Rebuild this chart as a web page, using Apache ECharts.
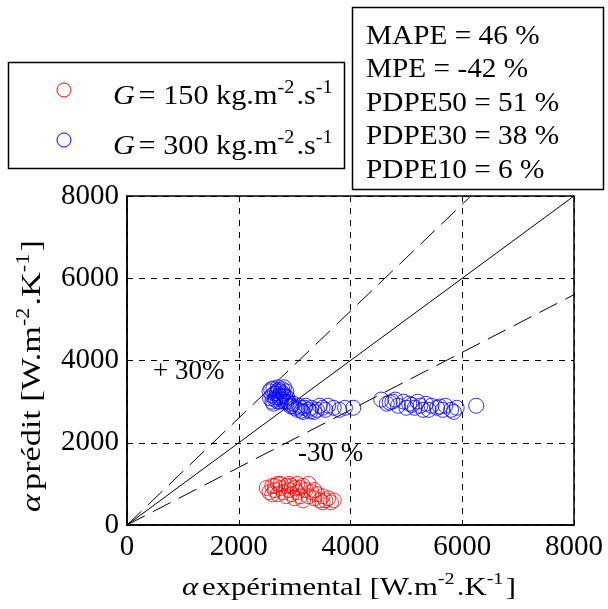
<!DOCTYPE html>
<html><head><meta charset="utf-8">
<script src="https://cdn.jsdelivr.net/npm/echarts@6/dist/echarts.min.js"></script>
<style>html,body{margin:0;padding:0;background:#fff}#c{width:608px;height:609px}</style>
</head><body><div id="c"></div>
<script>
// G = 300 kg.m-2.s-1 (blue) : [alpha experimental, alpha predicted]
const blueX = [2550,2600,2620,2650,2680,2700,2720,2750,2780,2800,2820,2850,2870,2900,2600,2700,2950,3000,3050,3100,3150,3200,3250,3300,3350,3400,3450,3500,3550,3600,3700,3800,3900,4050,
  2580,2640,2660,2710,2730,2760,2790,2810,2840,2560,2690,2740,2880,2620,2770,2930,2980,3080,3120,3180,3280,
  4550,4650,4750,4850,4950,5050,5150,5200,5250,5350,5400,5450,5550,5650,5700,5800,5850,5900,6250,5000,4800,5300,4700,5100,5600];
const blueY = [3250,3150,3320,3050,3200,3350,3100,3250,3300,3150,3000,3250,3100,2950,3000,3000,2900,2850,2800,2850,2750,2900,2800,2850,2750,2800,2900,2850,2800,2900,2850,2800,2850,2850,
  3300,3200,3100,3280,3150,3050,3200,3350,3120,3080,3250,3000,3000,2950,3120,2880,2950,2900,2780,2850,2760,
  3050,2950,3000,2900,3000,2950,2850,3000,2900,2950,2800,2900,2850,2800,2900,2800,2750,2850,2900,2850,3050,2800,2980,2920,2880];
// G = 150 kg.m-2.s-1 (red)
const redX = [2500,2550,2600,2650,2700,2700,2750,2800,2850,2850,2900,2950,3000,3000,3050,3100,3150,3150,3200,3250,3300,3350,3400,3450,3500,3550,3600,3650,3700,2600,2900,3250,3500,2750,2950,3100,3350,2650,3050];
const redY = [900,800,950,850,750,1000,900,800,950,700,850,750,900,650,800,700,950,600,850,700,800,650,750,600,700,600,650,550,600,750,1000,1000,550,1000,950,900,850,950,1000];
// reference lines: y = x, +30 %, -30 %
const lineX = [0, 8000];
const lineY = [0, 8000];
const plus30X = [0, 6154];
const plus30Y = [0, 8000];
const minus30X = [0, 8000];
const minus30Y = [0, 5600];
const ticks = [0, 2000, 4000, 6000, 8000];
const stats = ['MAPE = 46 %', 'MPE = -42 %', 'PDPE50 = 51 %', 'PDPE30 = 38 %', 'PDPE10 = 6 %'];
const seriesNames = ['150', '300'];

const zip = (a, b) => a.map((v, i) => [v, b[i]]);
const FONT = 'Liberation Serif';
const mkRich = (fs) => ({
  n: {fontFamily: FONT, fontSize: fs, color: '#000'},
  i: {fontFamily: FONT, fontSize: fs, fontStyle: 'italic', color: '#000'},
  s: {fontFamily: FONT, fontSize: Math.round(fs * 0.66), color: '#000', padding: [0, 2, Math.round(fs * 0.62), 0]}
});
const chart = echarts.init(document.getElementById('c'), null, {renderer: 'canvas'});
const gridLine = {show: true, lineStyle: {color: '#000', type: [6, 6], width: 1}};
const axisCommon = {
  type: 'value', min: ticks[0], max: ticks[ticks.length - 1], interval: 2000,
  axisLine: {show: true, lineStyle: {color: '#000', width: 1.5}},
  axisTick: {show: true, inside: true, length: 5, lineStyle: {color: '#000'}},
  axisLabel: {fontFamily: FONT, fontSize: 29, color: '#000', margin: 8, formatter: (v) => String(v)},
  splitLine: gridLine
};
chart.setOption({
  animation: false,
  backgroundColor: '#fff',
  grid: {left: 127, right: 34, top: 196, bottom: 84, show: true, borderColor: '#000', borderWidth: 1.5, backgroundColor: 'transparent'},
  xAxis: axisCommon,
  yAxis: axisCommon,
  series: [
    {type: 'line', data: zip(lineX, lineY), symbol: 'none', lineStyle: {color: '#000', width: 1}, silent: true, z: 1},
    {type: 'line', data: zip(plus30X, plus30Y), symbol: 'none', lineStyle: {color: '#000', width: 1, type: [20, 9]}, silent: true, z: 1},
    {type: 'line', data: zip(minus30X, minus30Y), symbol: 'none', lineStyle: {color: '#000', width: 1, type: [20, 9]}, silent: true, z: 1},
    {name: seriesNames[1], type: 'scatter', data: zip(blueX, blueY), symbol: 'circle', symbolSize: 15,
      itemStyle: {color: 'transparent', borderColor: '#0000ff', borderWidth: 1}, z: 3},
    {name: seriesNames[0], type: 'scatter', data: zip(redX, redY), symbol: 'circle', symbolSize: 15,
      itemStyle: {color: 'transparent', borderColor: '#ff0000', borderWidth: 1}, z: 3}
  ],
  graphic: [
    // axis titles
    {type: 'text', x: 182, y: 588, scaleX: 1.18, z: 11,
      style: {text: '{i|α} {n|expérimental [W.m}{s|-2}{n|.K}{s|-1}{n|]}', rich: mkRich(26), textVerticalAlign: 'middle'}},
    {type: 'text', x: 33, y: 376, rotation: Math.PI / 2, scaleX: 1.22, z: 11,
      style: {text: '{i|α} {n|prédit [W.m}{s|-2}{n|.K}{s|-1}{n|]}', rich: mkRich(28), textAlign: 'center', textVerticalAlign: 'middle'}},
    // legend box
    {type: 'rect', shape: {x: 8.5, y: 62.5, width: 336, height: 106}, style: {fill: '#fff', stroke: '#000', lineWidth: 1.5}, z: 10},
    {type: 'circle', shape: {cx: 64, cy: 90, r: 7}, style: {fill: 'none', stroke: '#ff0000', lineWidth: 1}, z: 11},
    {type: 'circle', shape: {cx: 64, cy: 140, r: 7}, style: {fill: 'none', stroke: '#0000ff', lineWidth: 1}, z: 11},
    {type: 'text', x: 113, y: 97, scaleX: 1.12, z: 11, style: {text: '{i|G} {n|= ' + seriesNames[0] + ' kg.m}{s|-2}{n|.s}{s|-1}', rich: mkRich(27), textVerticalAlign: 'middle'}},
    {type: 'text', x: 113, y: 147, scaleX: 1.12, z: 11, style: {text: '{i|G} {n|= ' + seriesNames[1] + ' kg.m}{s|-2}{n|.s}{s|-1}', rich: mkRich(27), textVerticalAlign: 'middle'}},
    // stats box
    {type: 'rect', shape: {x: 352.5, y: 7.5, width: 251, height: 182}, style: {fill: '#fff', stroke: '#000', lineWidth: 1.5}, z: 10},
    {type: 'text', x: 366, y: 20, scaleX: 1.085, z: 11, style: {text: stats.join('\n'), fontFamily: FONT, fontSize: 27, lineHeight: 33.5, fill: '#000'}},
    // band annotations
    {type: 'text', left: 153, top: 358, z: 11, style: {text: '+ 30%', fontFamily: FONT, fontSize: 27, fill: '#000'}},
    {type: 'text', left: 298, top: 440, z: 11, style: {text: '-30 %', fontFamily: FONT, fontSize: 27, fill: '#000'}}
  ]
});
</script></body></html>
